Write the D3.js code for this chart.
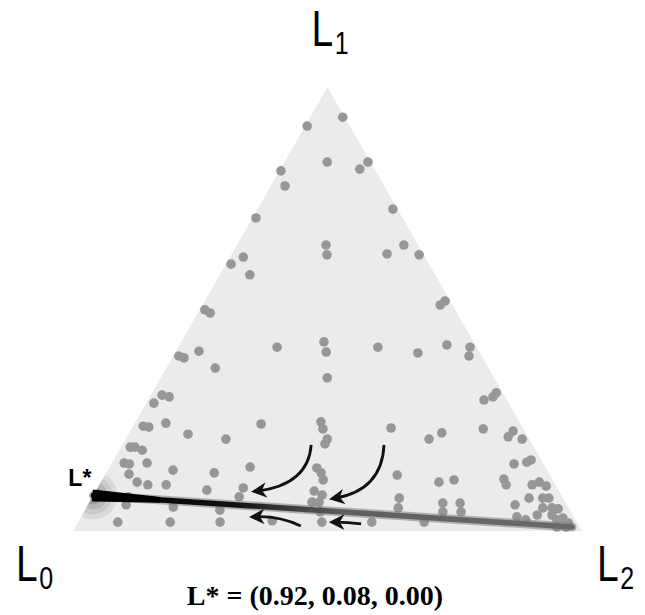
<!DOCTYPE html>
<html>
<head>
<meta charset="utf-8">
<script src="https://cdn.jsdelivr.net/npm/d3@7"></script>
<style>
  body { margin: 0; background: #fff; }
  svg { display: block; }
</style>
</head>
<body>
<div id="vis"></div>
<script>
// frame
const FRAME_WIDTH = 645;
const FRAME_HEIGHT = 615;

// ternary data: [l0, l1, l2]
const CORNERS = [[1, 0, 0], [0, 1, 0], [0, 0, 1]];
const CORNER_NAMES = ["0", "1", "2"];
const L_STAR = [0.92, 0.08, 0.00];
const TRAJ_END = [0.015, 0.009, 0.976];
const TITLE = "L* = (0.92, 0.08, 0.00)";

const POINTS = [
  [0.084, 0.912, 0.004], [0.004, 0.932, 0.064], [0.085, 0.831, 0.084], [0.029, 0.815, 0.156],
  [0.005, 0.831, 0.164], [0.186, 0.811, 0.003], [0.195, 0.777, 0.028], [0.009, 0.725, 0.266],
  [0.288, 0.705, 0.007], [0.181, 0.644, 0.175], [0.190, 0.622, 0.188], [0.071, 0.624, 0.305],
  [0.028, 0.644, 0.328], [0.009, 0.622, 0.369], [0.389, 0.601, 0.010], [0.357, 0.617, 0.026],
  [0.364, 0.577, 0.059], [0.492, 0.498, 0.010], [0.485, 0.491, 0.024], [0.024, 0.509, 0.467],
  [0.010, 0.518, 0.472], [0.392, 0.414, 0.194], [0.294, 0.426, 0.280], [0.301, 0.403, 0.296],
  [0.194, 0.414, 0.392], [0.122, 0.401, 0.477], [0.056, 0.419, 0.525], [0.013, 0.414, 0.573],
  [0.025, 0.394, 0.581], [0.595, 0.394, 0.011], [0.587, 0.390, 0.023], [0.550, 0.405, 0.045],
  [0.537, 0.367, 0.096], [0.328, 0.345, 0.327], [0.672, 0.306, 0.022], [0.660, 0.302, 0.038],
  [0.697, 0.288, 0.015], [0.045, 0.295, 0.660], [0.024, 0.302, 0.674], [0.013, 0.311, 0.676],
  [0.744, 0.236, 0.020], [0.734, 0.234, 0.032], [0.696, 0.243, 0.061], [0.510, 0.241, 0.249],
  [0.390, 0.246, 0.364], [0.394, 0.230, 0.376], [0.259, 0.232, 0.509], [0.079, 0.230, 0.691],
  [0.023, 0.225, 0.752], [0.665, 0.218, 0.117], [0.596, 0.207, 0.197], [0.397, 0.207, 0.396],
  [0.407, 0.196, 0.397], [0.197, 0.207, 0.596], [0.165, 0.221, 0.614], [0.039, 0.212, 0.749],
  [0.014, 0.207, 0.779], [0.793, 0.189, 0.018], [0.784, 0.189, 0.027], [0.773, 0.182, 0.045],
  [0.823, 0.153, 0.024], [0.814, 0.151, 0.035], [0.778, 0.153, 0.069], [0.735, 0.137, 0.128],
  [0.657, 0.131, 0.212], [0.580, 0.144, 0.276], [0.450, 0.142, 0.408], [0.447, 0.131, 0.422],
  [0.451, 0.115, 0.434], [0.300, 0.126, 0.574], [0.226, 0.110, 0.664], [0.194, 0.115, 0.691],
  [0.058, 0.151, 0.791], [0.031, 0.155, 0.814], [0.020, 0.160, 0.820], [0.095, 0.117, 0.788],
  [0.097, 0.104, 0.799], [0.046, 0.104, 0.850], [0.029, 0.110, 0.861], [0.020, 0.101, 0.879],
  [0.826, 0.128, 0.046], [0.819, 0.110, 0.071], [0.801, 0.104, 0.095], [0.765, 0.104, 0.131],
  [0.691, 0.092, 0.217], [0.617, 0.097, 0.286], [0.635, 0.077, 0.288], [0.481, 0.090, 0.429],
  [0.470, 0.081, 0.449], [0.498, 0.065, 0.437], [0.484, 0.065, 0.451], [0.322, 0.074, 0.604],
  [0.242, 0.063, 0.695], [0.208, 0.063, 0.729], [0.067, 0.074, 0.859], [0.040, 0.074, 0.886],
  [0.028, 0.074, 0.898], [0.866, 0.059, 0.075], [0.776, 0.054, 0.170], [0.688, 0.047, 0.265],
  [0.493, 0.043, 0.464], [0.335, 0.052, 0.613], [0.252, 0.043, 0.705], [0.216, 0.043, 0.741],
  [0.102, 0.059, 0.839], [0.051, 0.052, 0.897], [0.033, 0.052, 0.915], [0.022, 0.050, 0.928],
  [0.112, 0.032, 0.856], [0.098, 0.025, 0.877], [0.070, 0.036, 0.894], [0.041, 0.036, 0.923],
  [0.037, 0.025, 0.938], [0.023, 0.029, 0.948], [0.018, 0.018, 0.964], [0.027, 0.009, 0.964],
  [0.045, 0.009, 0.946], [0.902, 0.020, 0.078], [0.799, 0.020, 0.181], [0.701, 0.020, 0.279],
  [0.597, 0.023, 0.380], [0.501, 0.020, 0.479], [0.403, 0.020, 0.577], [0.300, 0.020, 0.680],
  [0.853, 0.077, 0.070]
];

// arrows: [start, control, end], each [l0, l1, l2]
const ARROWS = [
  [[0.435, 0.194, 0.371], [0.486, 0.104, 0.410], [0.593, 0.090, 0.317]],
  [[0.292, 0.194, 0.514], [0.347, 0.092, 0.561], [0.448, 0.074, 0.478]],
  [[0.547, 0.011, 0.442], [0.576, 0.034, 0.390], [0.626, 0.032, 0.342]],
  [[0.426, 0.016, 0.558], [0.450, 0.020, 0.530], [0.475, 0.020, 0.505]]
];

// scales: horizontal position from (l2 + l1/2), vertical from l1
const X_SCALE = d3.scaleLinear().domain([0, 1]).range([73, 582]);
const Y_SCALE = d3.scaleLinear().domain([0, 1]).range([531, 87]);

function project(d) {
  return [X_SCALE(d[2] + d[1] / 2), Y_SCALE(d[1])];
}

const SVG = d3.select("#vis")
  .append("svg")
    .attr("width", FRAME_WIDTH)
    .attr("height", FRAME_HEIGHT);

const defs = SVG.append("defs");
const TRI_POINTS = CORNERS.map(project).map(p => p.join(",")).join(" ");

defs.append("clipPath")
    .attr("id", "tri-clip")
  .append("polygon")
    .attr("points", TRI_POINTS);

const P0 = project(L_STAR);
const P1 = project(TRAJ_END);

const grad = defs.append("linearGradient")
    .attr("id", "traj-grad")
    .attr("gradientUnits", "userSpaceOnUse")
    .attr("x1", P0[0]).attr("y1", P0[1])
    .attr("x2", P1[0]).attr("y2", P1[1]);
[[0, "#000"], [0.3, "#111"], [0.4, "#3a3a3a"], [0.52, "#5e5e5e"], [1, "#6a6a6a"]]
  .forEach(s => grad.append("stop").attr("offset", s[0]).attr("stop-color", s[1]));

defs.append("marker")
    .attr("id", "head")
    .attr("viewBox", "0 0 10 10")
    .attr("refX", 6).attr("refY", 5)
    .attr("markerWidth", 5.5).attr("markerHeight", 5.5)
    .attr("markerUnits", "strokeWidth")
    .attr("orient", "auto")
  .append("path")
    .attr("d", "M0,0 L10,5 L0,10 L3,5 Z")
    .attr("fill", "#111");

// triangle
SVG.append("polygon")
    .attr("points", TRI_POINTS)
    .attr("fill", "#ebebeb");

// rings around L*
const rings = SVG.append("g").attr("clip-path", "url(#tri-clip)");
[[24, "#dadada"], [19, "#cacaca"], [14, "#b6b6b6"], [9, "#9c9c9c"], [5, "#6a6a6a"]].forEach(r => {
  rings.append("circle")
      .attr("cx", P0[0]).attr("cy", P0[1])
      .attr("r", r[0])
      .attr("fill", r[1]);
});

// points
SVG.append("g")
  .selectAll("circle")
  .data(POINTS)
  .enter()
  .append("circle")
    .attr("cx", d => project(d)[0])
    .attr("cy", d => project(d)[1])
    .attr("r", 4.8)
    .attr("fill", "#979797");

// trajectory from L* toward L2
SVG.append("line")
    .attr("x1", P0[0]).attr("y1", P0[1])
    .attr("x2", P1[0]).attr("y2", P1[1])
    .attr("stroke", "#808080")
    .attr("stroke-opacity", 0.55)
    .attr("stroke-width", 9)
    .attr("stroke-linecap", "round");

SVG.append("line")
    .attr("x1", P0[0]).attr("y1", P0[1])
    .attr("x2", P1[0]).attr("y2", P1[1])
    .attr("stroke", "url(#traj-grad)")
    .attr("stroke-width", 5.5)
    .attr("stroke-linecap", "round");

// tapered wedge at the start
const dx = P1[0] - P0[0], dy = P1[1] - P0[1];
const len = Math.hypot(dx, dy);
const nx = -dy / len, ny = dx / len;
const W = [P0[0] + dx * 0.14, P0[1] + dy * 0.14];
SVG.append("polygon")
    .attr("points", [
      [P0[0] - 1 * dx / len + nx * 6, P0[1] - 1 * dy / len + ny * 6],
      [W[0] + nx * 2.8, W[1] + ny * 2.8],
      [W[0] - nx * 2.8, W[1] - ny * 2.8],
      [P0[0] - 1 * dx / len - nx * 6, P0[1] - 1 * dy / len - ny * 6]
    ].map(p => p.join(",")).join(" "))
    .attr("fill", "#000");

// arrows
SVG.append("g")
  .selectAll("path")
  .data(ARROWS)
  .enter()
  .append("path")
    .attr("d", d => {
      const a = project(d[0]), c = project(d[1]), b = project(d[2]);
      return "M" + a + " Q" + c + " " + b;
    })
    .attr("fill", "none")
    .attr("stroke", "#111")
    .attr("stroke-width", 2.8)
    .attr("marker-end", "url(#head)");

// corner labels (narrowed)
const LABEL_POS = [[-57, 50], [-16, -41], [15, 50]];
const labels = SVG.append("g")
    .attr("font-family", "'Liberation Sans', Arial, sans-serif")
    .attr("fill", "#000");

CORNERS.forEach((c, i) => {
  const p = project(c);
  const t = labels.append("text")
      .attr("transform", "translate(" + (p[0] + LABEL_POS[i][0]) + "," + (p[1] + LABEL_POS[i][1]) + ") scale(0.78,1)")
      .attr("font-size", 50);
  t.append("tspan").text("L");
  t.append("tspan")
      .attr("font-size", 32)
      .attr("dy", 8)
      .attr("dx", 2)
      .text(CORNER_NAMES[i]);
});

// L* label
SVG.append("text")
    .attr("x", P0[0] - 2)
    .attr("y", P0[1] - 9)
    .attr("text-anchor", "end")
    .attr("font-family", "'Liberation Sans', Arial, sans-serif")
    .attr("font-weight", "bold")
    .attr("font-size", 23)
    .text("L*");

// title
SVG.append("text")
    .attr("x", 315)
    .attr("y", 605)
    .attr("text-anchor", "middle")
    .attr("font-family", "'Liberation Serif', 'Times New Roman', serif")
    .attr("font-weight", "bold")
    .attr("font-size", 28)
    .text(TITLE);
</script>
</body>
</html>
